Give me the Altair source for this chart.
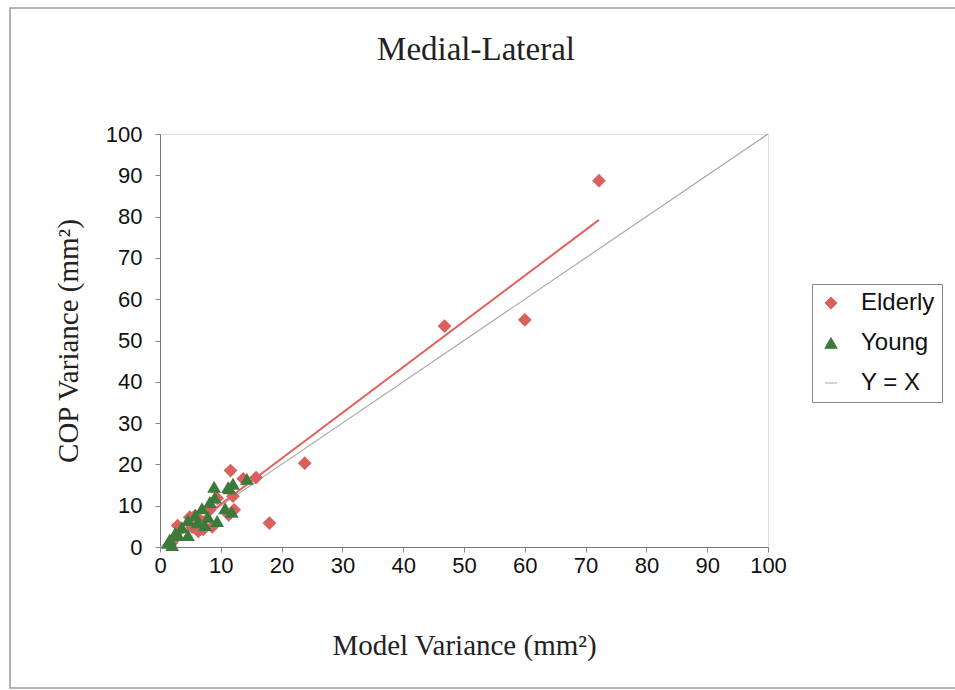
import altair as alt
import pandas as pd

# ---- data ----
elderly_x = [72.2, 46.8, 60.0, 23.8, 18.0, 15.8, 11.6, 12.2, 9.4, 12.0, 13.7, 8.2,
             5.8, 4.9, 6.9, 7.1, 6.3, 2.9, 2.6, 5.3, 11.3, 8.6, 1.9]
elderly_y = [88.7, 53.5, 55.0, 20.3, 5.8, 16.8, 18.5, 9.0, 11.8, 12.3, 16.5, 9.0,
             7.6, 7.2, 6.1, 4.3, 3.8, 5.2, 2.3, 4.8, 7.8, 4.9, 1.0]

young_x = [8.9, 11.2, 12.0, 14.3, 9.0, 8.2, 6.9, 5.8, 4.6, 3.6, 2.5, 1.6, 1.3,
           10.7, 11.8, 9.4, 7.9, 4.6, 3.0, 7.4, 2.0, 6.2, 11.4]
young_y = [14.6, 14.5, 15.3, 16.5, 12.0, 10.9, 9.4, 7.7, 6.5, 4.8, 3.4, 1.8, 1.0,
           9.4, 8.5, 6.3, 7.3, 2.9, 2.9, 5.3, 0.5, 6.0, 14.2]

# Y = X reference line
yx_x = [0, 100]
yx_y = [0, 100]

# Elderly linear trend line (end points)
trend_x = [2.6, 72.2]
trend_y = [2.2, 79.2]

series_names = ["Elderly", "Young", "Y = X"]
series_colors = ["#d9605e", "#3c7a3c", "#a8a8a8"]
series_shapes = ["diamond", "triangle-up", "stroke"]
axis_ticks = list(range(0, 101, 10))

pts = pd.DataFrame({
    "x": elderly_x + young_x,
    "y": elderly_y + young_y,
    "series": ["Elderly"] * len(elderly_x) + ["Young"] * len(young_x),
})
yx = pd.DataFrame({"x": yx_x, "y": yx_y, "series": ["Y = X"] * 2})
trend = pd.DataFrame({"x": trend_x, "y": trend_y})

xscale = alt.Scale(domain=[0, 100], nice=False)
yscale = alt.Scale(domain=[0, 100], nice=False)

color = alt.Color(
    "series:N",
    scale=alt.Scale(domain=series_names, range=series_colors),
    legend=alt.Legend(
        title=None,
        orient="none",
        legendX=652,
        legendY=150,
        labelFont="Liberation Sans",
        labelFontSize=24,
        labelColor="#111",
        labelOffset=18,
        symbolSize=150,
        symbolStrokeWidth=1,
        rowPadding=16,
        padding=7,
        strokeColor="#888",
        fillColor="white",
    ),
)
shape = alt.Shape(
    "series:N",
    scale=alt.Scale(domain=series_names, range=series_shapes),
    legend=alt.Legend(title=None),
)

xaxis = alt.Axis(values=axis_ticks, title="Model Variance (mm²)", grid=False,
                 labelFont="Liberation Sans", labelFontSize=22, labelColor="#111",
                 labelPadding=3, tickSize=5, tickColor="#888", domainColor="#777",
                 labelFlush=False,
                 titleFont="Liberation Serif", titleFontSize=29, titleFontWeight="normal",
                 titleColor="#222", titlePadding=55)
yaxis = alt.Axis(values=axis_ticks, title="COP Variance (mm²)", grid=False,
                 labelFont="Liberation Sans", labelFontSize=22, labelColor="#111",
                 labelPadding=13, tickSize=5, tickColor="#888", domainColor="#777",
                 labelFlush=False,
                 titleFont="Liberation Serif", titleFontSize=29, titleFontWeight="normal",
                 titleColor="#222", titlePadding=22)

frame = alt.Chart(pd.DataFrame({"k": [0]})).mark_rect(
    fill=None, stroke="#9a9a9a", strokeWidth=1.5
).encode(x=alt.value(-150), x2=alt.value(900), y=alt.value(-126), y2=alt.value(554))

yx_line = alt.Chart(yx).mark_line(strokeWidth=1.2).encode(
    x=alt.X("x:Q", scale=xscale, axis=xaxis),
    y=alt.Y("y:Q", scale=yscale, axis=yaxis),
    color=color,
)

trend_line = alt.Chart(trend).mark_line(color="#e06262", strokeWidth=2).encode(
    x=alt.X("x:Q", scale=xscale),
    y=alt.Y("y:Q", scale=yscale),
)

points = alt.Chart(pts).mark_point(filled=True, opacity=1, size=190).encode(
    x=alt.X("x:Q", scale=xscale),
    y=alt.Y("y:Q", scale=yscale),
    color=color,
    shape=shape,
)

chart = alt.layer(frame, yx_line, trend_line, points).properties(
    width=608,
    height=413,
    title=alt.Title("Medial-Lateral", font="Liberation Serif", fontSize=33,
                    fontWeight="normal", color="#222", anchor="middle", dx=12, offset=-60),
    autosize=alt.AutoSizeParams(type="none"),
    padding={"left": 160, "top": 134, "right": 187, "bottom": 143},
).configure_view(stroke="#808080", strokeWidth=1.5).configure(background="white")

chart.save("out.html", embed_options={"renderer": "svg", "actions": False})
